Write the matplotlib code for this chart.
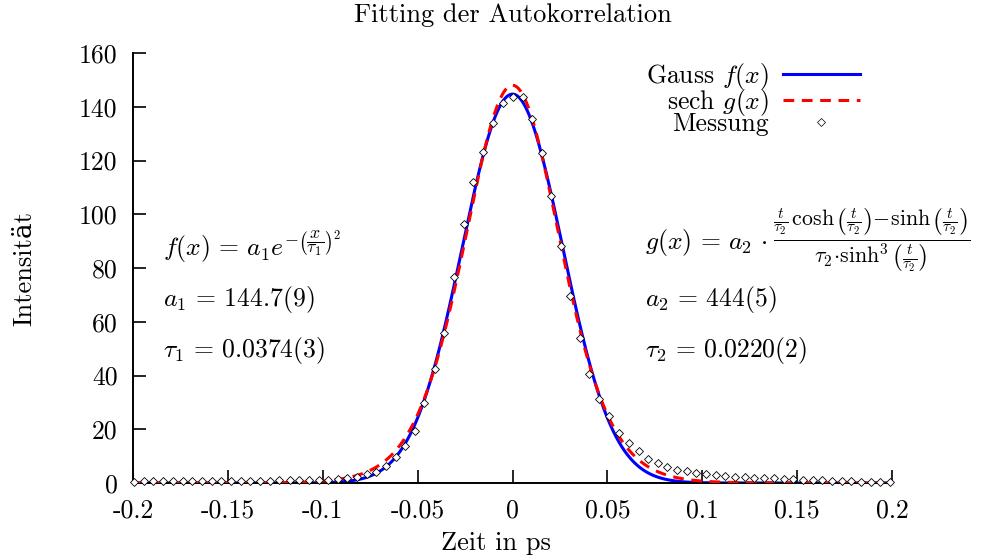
import numpy as np
import matplotlib
matplotlib.use("Agg")
import matplotlib.pyplot as plt
from matplotlib.lines import Line2D

plt.rcParams['font.family'] = ['cmr10', 'DejaVu Serif']
plt.rcParams['mathtext.fontset'] = 'cm'
plt.rcParams['axes.unicode_minus'] = False

title = "Fitting der Autokorrelation"
xlabel = "Zeit in ps"
ylabel = "Intensität"

x_ticks = [-0.2, -0.15, -0.1, -0.05, 0.0, 0.05, 0.1, 0.15, 0.2]
x_tick_labels = ["-0.2", "-0.15", "-0.1", "-0.05", "0", "0.05", "0.1", "0.15", "0.2"]
y_ticks = [0, 20, 40, 60, 80, 100, 120, 140, 160]
y_tick_labels = ["0", "20", "40", "60", "80", "100", "120", "140", "160"]

# Messung (measurement points)
t_meas = [-0.1996, -0.1943, -0.1893, -0.1841, -0.1788, -0.1738, -0.1687, -0.1638,
          -0.1585, -0.1535, -0.1483, -0.1433, -0.1381, -0.1332, -0.1279, -0.1228,
          -0.1174, -0.1124, -0.1072, -0.1021, -0.0970, -0.0921, -0.0870, -0.0819,
          -0.0769, -0.0717, -0.0668, -0.0615, -0.0564, -0.0515, -0.0464, -0.0411,
          -0.0359, -0.0309, -0.0257, -0.0207, -0.0155, -0.0102, -0.0049, 0.0,
          0.0054, 0.0102, 0.0153, 0.0204, 0.0255, 0.0305, 0.0354, 0.0405,
          0.0458, 0.0511, 0.0563, 0.0612, 0.0665, 0.0714, 0.0767, 0.0816,
          0.0867, 0.0917, 0.0968, 0.1021, 0.1070, 0.1122, 0.1171, 0.1224,
          0.1275, 0.1324, 0.1377, 0.1430, 0.1479, 0.1532, 0.1583, 0.1632,
          0.1685, 0.1734, 0.1785, 0.1838, 0.1887, 0.1939, 0.1992]
v_meas = [0.5, 0.8, 0.7, 0.7, 0.8, 0.7, 0.8, 0.8,
          0.8, 0.8, 0.8, 0.8, 0.8, 0.8, 0.9, 1.0,
          1.0, 1.0, 1.0, 1.2, 1.3, 1.5, 1.9, 2.4,
          3.3, 4.2, 6.2, 9.6, 13.8, 19.5, 29.7, 42.4,
          55.9, 76.5, 96.4, 112.1, 123.3, 133.8, 141.5, 143.5,
          143.5, 135.6, 122.9, 106.9, 88.3, 69.7, 54.1, 40.4,
          31.2, 25.0, 18.5, 14.8, 11.8, 8.9, 7.5, 5.8,
          4.8, 4.3, 3.7, 3.3, 3.0, 2.7, 2.4, 2.1,
          2.0, 1.8, 1.7, 1.5, 1.4, 1.2, 1.1, 1.0,
          0.9, 0.7, 0.6, 0.5, 0.4, 0.3, 0.3]

# fit parameters shown in the chart
a1, tau1 = 144.7, 0.0374
a2, tau2 = 444.0, 0.0220

t_fit = np.linspace(-0.2, 0.2, 2001)
f_fit = a1 * np.exp(-(t_fit / tau1) ** 2)
u = t_fit / tau2
u = np.where(np.abs(u) < 1e-4, 1e-4, u)
g_fit = a2 * (u * np.cosh(u) - np.sinh(u)) / np.sinh(u) ** 3

W, H = 992, 560
fig = plt.figure(figsize=(W / 100, H / 100), dpi=100)
ax = fig.add_axes([133 / W, 1 - 483 / H, (892 - 133) / W, (483 - 53) / H])

LW = 2.2
ax.plot(t_fit, f_fit, color='#0000ff', lw=LW, zorder=2)
ax.plot(t_fit, g_fit, color='#ff0000', lw=LW, dashes=(3.5, 2.5), zorder=3)
ax.plot(t_meas, v_meas, linestyle='none', marker='D', ms=4.4, mfc='white',
        mec='black', mew=0.6, zorder=4, clip_on=False)

ax.set_xlim(-0.2, 0.2)
ax.set_ylim(0, 160)
ax.set_xticks(x_ticks)
ax.set_xticklabels(x_tick_labels)
ax.set_yticks(y_ticks)
ax.set_yticklabels(y_tick_labels)
ax.spines['top'].set_visible(False)
ax.spines['right'].set_visible(False)
for s in ('left', 'bottom'):
    ax.spines[s].set_linewidth(1.4)
ax.tick_params(direction='in', length=9.5, width=1.2, labelsize=18.5, pad=11)

FS = 19
ax.set_title(title, fontsize=FS, pad=22)
ax.set_xlabel(xlabel, fontsize=FS)
ax.xaxis.set_label_coords(0.5, 1 - 531 / H, transform=fig.transFigure)
ax.set_ylabel(ylabel, fontsize=FS)
ax.yaxis.set_label_coords(36 / W, 1 - 268 / H, transform=fig.transFigure)


def px(xp, yp):
    return (xp / W, 1 - yp / H)


ms = 18.5
fig.text(*px(163, 256), r'$f(x)\,=\,a_1 e^{-\left(\dfrac{x}{\tau_1}\right)^2}$', fontsize=ms,
         va='baseline', ha='left')
fig.text(*px(163, 306), r'$a_1\,=\,144.7(9)$', fontsize=ms, va='baseline', ha='left')
fig.text(*px(163, 357), r'$\tau_1\,=\,0.0374(3)$', fontsize=ms, va='baseline', ha='left')
fig.text(*px(645, 249), r'$g(x)\,=\,a_2\,\cdot$', fontsize=ms, va='baseline', ha='left')
fig.text(*px(773, 247),
         r'$\frac{\frac{t}{\tau_2}\,\cosh\left(\frac{t}{\tau_2}\right)\!-\!\sinh\left(\frac{t}{\tau_2}\right)}'
         r'{\tau_2\!\cdot\!\sinh^3\left(\frac{t}{\tau_2}\right)}$',
         fontsize=22.5, va='baseline', ha='left')
fig.text(*px(645, 306), r'$a_2\,=\,444(5)$', fontsize=ms, va='baseline', ha='left')
fig.text(*px(645, 357), r'$\tau_2\,=\,0.0220(2)$', fontsize=ms, va='baseline', ha='left')

handles = [Line2D([], [], color='#0000ff', lw=LW),
           Line2D([], [], color='#ff0000', lw=LW, dashes=(3.5, 2.5)),
           Line2D([], [], linestyle='none', marker='D', ms=3.6, mfc='white', mec='black', mew=0.5)]
labels = [r'Gauss $f(x)$', r'sech $g(x)$', 'Messung']
leg = ax.legend(handles, labels, loc='upper right', bbox_to_anchor=(860 / W, 1 - 61 / H),
                bbox_transform=fig.transFigure, frameon=False, markerfirst=False,
                fontsize=18.5, handlelength=3.0, handletextpad=0.55, labelspacing=-0.2,
                borderpad=0, borderaxespad=0)

fig.savefig('out.png', dpi=100)
